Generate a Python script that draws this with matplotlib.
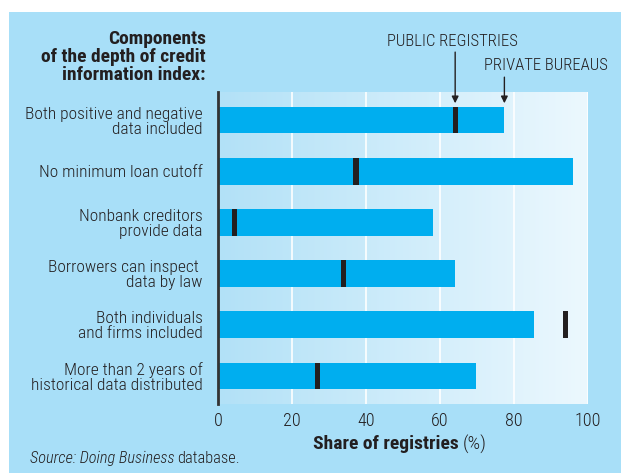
import numpy as np
import matplotlib
matplotlib.use("Agg")
import matplotlib.pyplot as plt
from matplotlib.patches import Rectangle

plt.rcParams["font.family"] = ["Roboto Condensed", "DejaVu Sans"]
plt.rcParams["font.weight"] = 300

categories = [
    "Both positive and negative\ndata included",
    "No minimum loan cutoff",
    "Nonbank creditors\nprovide data",
    "Borrowers can inspect \ndata by law",
    "Both individuals\nand firms included",
    "More than 2 years of\nhistorical data distributed",
]
private_bureaus = [77.4, 96.0, 58.1, 64.0, 85.3, 69.8]
public_registries = [64.1, 37.3, 4.5, 34.0, 94.0, 26.9]
xticks = [0, 20, 40, 60, 80, 100]

FIG_BG = "#a8dff8"
BAR = "#00aeef"
INK = "#231f20"

fig = plt.figure(figsize=(6.21, 4.73), dpi=100)
fig.patch.set_facecolor("white")
fig.patches.append(Rectangle((9 / 621, 0), 1, (473 - 12) / 473,
                             transform=fig.transFigure, facecolor=FIG_BG,
                             edgecolor="none", zorder=-10))

ax = fig.add_axes([218 / 621, (473 - 404) / 473, 370 / 621, 312 / 473])
ax.set_facecolor("none")

# horizontal gradient in the plot area
grad = np.linspace(0, 1, 256).reshape(1, -1)
cmap = matplotlib.colors.LinearSegmentedColormap.from_list("bg", ["#b2e1f7", "#ecf8fe"])
ax.imshow(grad, extent=[0, 100, 5.55, -0.55], aspect="auto", cmap=cmap, zorder=0)

y = np.arange(len(categories))
ax.barh(y, private_bureaus, height=0.52, color=BAR, zorder=3)
ax.barh(y, [1.4] * len(y), left=[v - 0.7 for v in public_registries],
        height=0.52, color=INK, zorder=4)

ax.set_xlim(0, 100)
ax.set_ylim(5.55, -0.55)
ax.set_xticks(xticks)
ax.set_yticks(y)
ax.set_yticklabels(categories, fontsize=12.5, color=INK, linespacing=1.0)
ax.tick_params(axis="x", length=0, labelsize=13, colors=INK, pad=6)
ax.tick_params(axis="y", length=0, pad=11)
for xv in xticks[1:]:
    ax.axvline(xv, color="white", lw=1.2, zorder=1)
for s in ["top", "right", "bottom"]:
    ax.spines[s].set_visible(False)
ax.spines["left"].set_color("#333333")
ax.spines["left"].set_linewidth(2)
ax.spines["left"].set_zorder(5)

# legend annotations
ax.annotate("", xy=(public_registries[0], -0.33), xytext=(public_registries[0], -1.33),
            arrowprops=dict(arrowstyle="-|>", color=INK, lw=1, mutation_scale=10,
                            shrinkA=0, shrinkB=0),
            annotation_clip=False)
ax.annotate("", xy=(private_bureaus[0], -0.33), xytext=(private_bureaus[0], -0.84),
            arrowprops=dict(arrowstyle="-|>", color=INK, lw=1, mutation_scale=10,
                            shrinkA=0, shrinkB=0),
            annotation_clip=False)
fig.text(452 / 621, 1 - 41 / 473, "PUBLIC REGISTRIES", ha="center", va="center",
         fontsize=12, color=INK)
fig.text(546 / 621, 1 - 66 / 473, "PRIVATE BUREAUS", ha="center", va="center",
         fontsize=12, color=INK)

fig.text(206 / 621, 1 - 57 / 473,
         "Components\nof the depth of credit\ninformation index:",
         ha="right", va="center", fontsize=14, fontweight="bold", color=INK,
         linespacing=0.98)

fig.text(459 / 621, 1 - 444 / 473, "Share of registries", ha="right", va="center",
         fontsize=14, fontweight="bold", color=INK)
fig.text(463 / 621, 1 - 444 / 473, "(%)", ha="left", va="center",
         fontsize=14, color=INK)

src = fig.text(30 / 621, 1 - 458 / 473, "Source: Doing Business", ha="left", va="center",
               fontsize=11.8, style="italic", color=INK)
fig.canvas.draw()
bb = src.get_window_extent()
fig.text((bb.x1 + 3) / 621, 1 - 458 / 473, "database.", ha="left", va="center",
         fontsize=11.8, color=INK)

fig.savefig("out.png", dpi=100, facecolor=fig.get_facecolor())
